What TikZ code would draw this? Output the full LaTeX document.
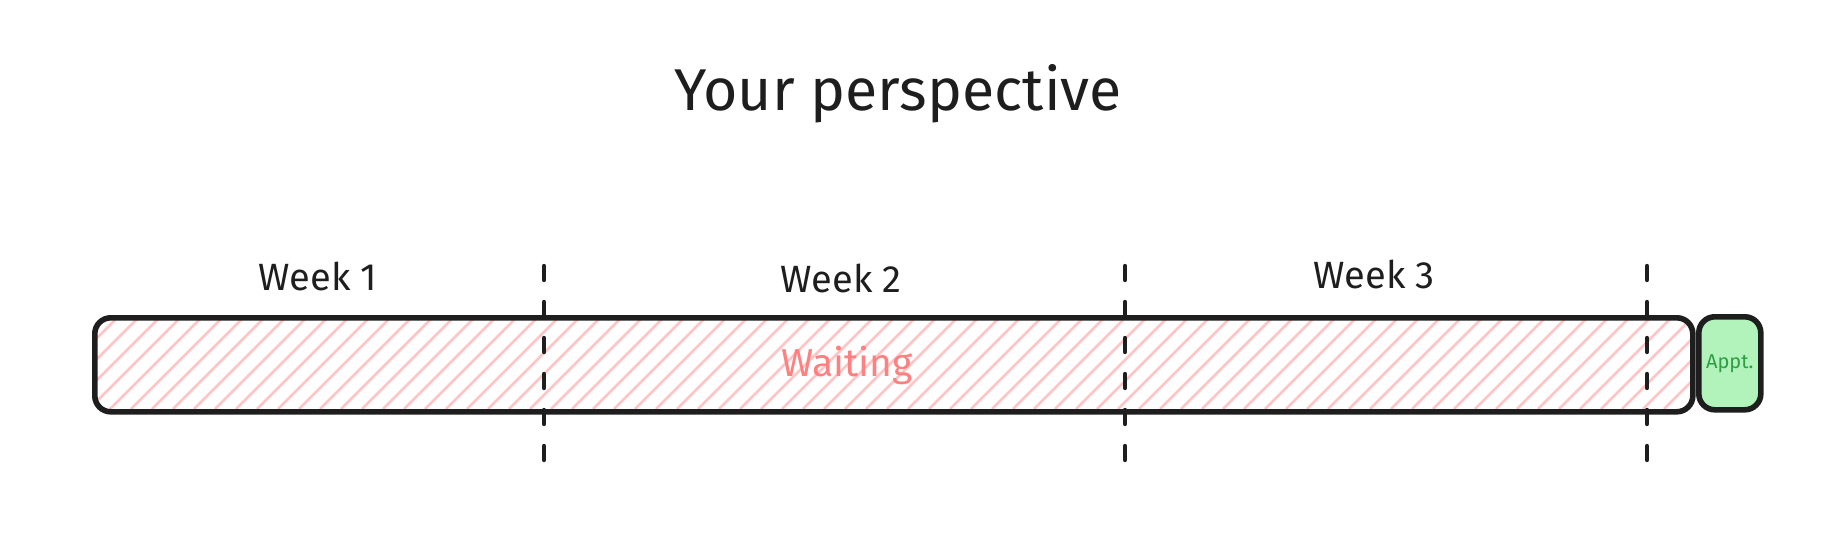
\documentclass[tikz,border=0pt]{standalone}
\usepackage{fontspec}
\setmainfont{Fira Sans}
\definecolor{ink}{HTML}{1E1E1E}
\definecolor{hatch}{HTML}{FFC4C4}
\definecolor{waittxt}{HTML}{FF8080}
\definecolor{apptfill}{HTML}{B2F2BB}
\definecolor{appttxt}{HTML}{2F9E44}
\tikzset{
  border/.style={draw=ink, line width=2.8pt, rounded corners=8pt},
  divider/.style={draw=ink, line width=2.2pt, line cap=round, dash pattern=on 7pt off 11pt},
  weeklabel/.style={text=ink, font=\fontsize{19}{22}\selectfont},
}
\begin{document}
\begin{tikzpicture}[x=0.5pt, y=-0.5pt]
\useasboundingbox (0,0) rectangle (1832,540);
% title
\node[text=ink, font=\fontsize{29.5}{32}\selectfont] (title) at (898,94) {Your perspective};
% waiting bar hatch
\begin{scope}
  \clip[rounded corners=8pt] (92,315) rectangle (1690,409);
  \foreach \x in {-100,-79,...,1700} {
    \draw[hatch, line width=1.3pt] (\x,409) -- (\x+94,315);
  }
\end{scope}
\node[border, minimum width=799pt, minimum height=47pt, inner sep=0pt, anchor=north west] (bar) at (92,315) {};
\node[text=waittxt, font=\fontsize{19.5}{22}\selectfont] (waiting) at (847,365) {Waiting};
% appointment box
\node[border, fill=apptfill, minimum width=31pt, minimum height=46.5pt, inner sep=0pt, anchor=north west] (appt) at (1696,314) {};
\node[text=appttxt, font=\fontsize{10}{12}\selectfont] (appttext) at (appt.center) {Appt.};
% week dividers
\coordinate (d1t) at (544,266); \coordinate (d1b) at (544,462);
\coordinate (d2t) at (1125,266); \coordinate (d2b) at (1125,462);
\coordinate (d3t) at (1647,266); \coordinate (d3b) at (1647,462);
\draw[divider] (d1t) -- (d1b);
\draw[divider] (d2t) -- (d2b);
\draw[divider] (d3t) -- (d3b);
% week labels
\node[weeklabel] (w1) at (318,276) {Week 1};
\node[weeklabel] (w2) at (841,278) {Week 2};
\node[weeklabel] (w3) at (1374,274) {Week 3};
\end{tikzpicture}
\end{document}
